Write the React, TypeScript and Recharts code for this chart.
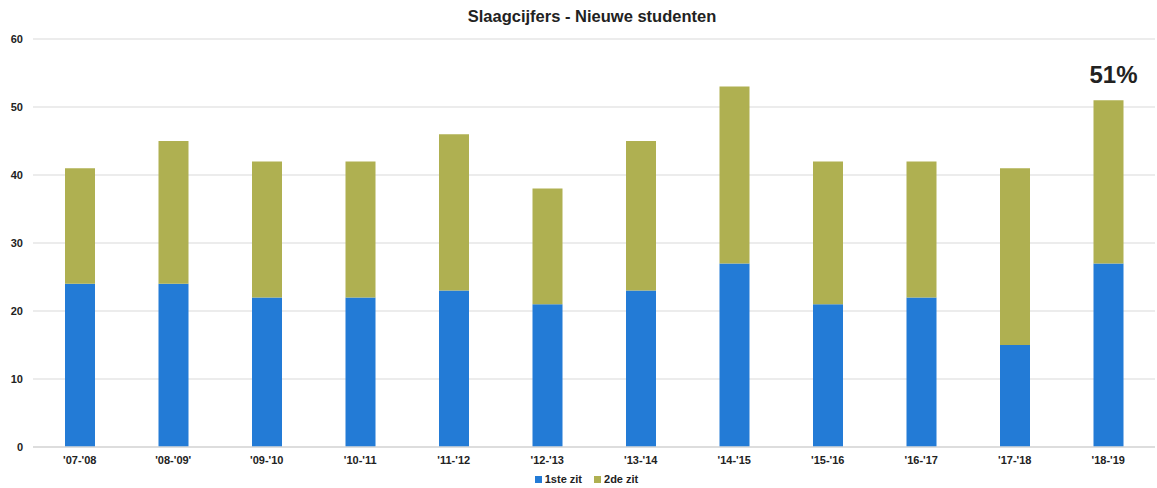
import React from 'react';
import { BarChart, Bar, XAxis, YAxis, CartesianGrid, Legend, LabelList } from 'recharts';

const categories = ["'07-'08", "'08-'09'", "'09-'10", "'10-'11", "'11-'12", "'12-'13", "'13-'14", "'14-'15", "'15-'16", "'16-'17", "'17-'18", "'18-'19"];
const eersteZit = [24, 24, 22, 22, 23, 21, 23, 27, 21, 22, 15, 27];
const tweedeZit = [17, 21, 20, 20, 23, 17, 22, 26, 21, 20, 26, 24];
const topLabels = ['', '', '', '', '', '', '', '', '', '', '', '51%'];
const yTicks = [0, 10, 20, 30, 40, 50, 60];

const data = categories.map((c, i) => ({
  name: c,
  eerste: eersteZit[i],
  tweede: tweedeZit[i],
  label: topLabels[i],
}));

const FONT = 'Liberation Sans, Arial, sans-serif';
const BLUE = '#237bd6';
const OLIVE = '#afb051';

const LegendContent = () => (
  <div style={{ display: 'flex', justifyContent: 'center', alignItems: 'center', fontFamily: FONT, fontSize: 11, fontWeight: 'bold', color: '#222' }}>
    <span style={{ display: 'inline-block', width: 7, height: 7, background: BLUE, marginRight: 3 }} />
    <span style={{ marginRight: 12 }}>1ste zit</span>
    <span style={{ display: 'inline-block', width: 7, height: 7, background: OLIVE, marginRight: 3 }} />
    <span>2de zit</span>
  </div>
);

export default function App() {
  return (
    <div style={{ position: 'absolute', left: 0, top: 0, width: 1157, height: 488, background: '#fff' }}>
      <div style={{ position: 'absolute', top: 7, left: 0, width: 1184, textAlign: 'center', fontFamily: FONT, fontSize: 16.5, fontWeight: 'bold', color: '#222' }}>
        Slaagcijfers - Nieuwe studenten
      </div>
      <BarChart width={1157} height={488} data={data} margin={{ top: 39, right: 2, bottom: 11, left: 0 }} barSize={30}>
        <CartesianGrid vertical={false} stroke="#d9d9d9" />
        <XAxis
          dataKey="name"
          tickLine={false}
          tickSize={0}
          tickMargin={9}
          axisLine={{ stroke: '#d9d9d9', strokeWidth: 1.5 }}
          tick={{ fontFamily: FONT, fontSize: 11, fontWeight: 'bold', fill: '#222' }}
          interval={0}
        />
        <YAxis
          width={33}
          domain={[0, 60]}
          ticks={yTicks}
          tickLine={false}
          axisLine={false}
          tickSize={0}
          tickMargin={10}
          tick={{ fontFamily: FONT, fontSize: 11, fontWeight: 'bold', fill: '#222' }}
        />
        <Legend
          layout="horizontal"
          verticalAlign="middle"
          align="center"
          content={<LegendContent />}
          wrapperStyle={{ top: 473, left: 8, width: 1157 }}
        />
        <Bar dataKey="eerste" name="1ste zit" stackId="a" fill={BLUE} isAnimationActive={false} />
        <Bar dataKey="tweede" name="2de zit" stackId="a" fill={OLIVE} isAnimationActive={false}>
          <LabelList dataKey="label" position="top" offset={17} fill="#222" fontSize={24} fontWeight="bold" fontFamily={FONT} dx={5} />
        </Bar>
      </BarChart>
    </div>
  );
}
